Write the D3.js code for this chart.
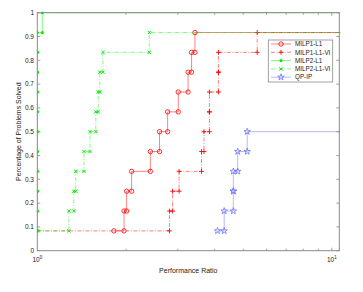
<!DOCTYPE html>
<html>
<head>
<meta charset="utf-8">
<script src="https://cdn.jsdelivr.net/npm/d3@7"></script>
<style>
  body { margin: 0; background: #fff; }
  text { font-family: "Liberation Sans", Arial, sans-serif; }
</style>
</head>
<body>
<script>
// performance ratios of the solved problems (12 problems in total)
var nProb = 12;
var xMax = 10.6;
var seriesNames = ["MILP1-L1", "MILP1-L1-VI", "MILP2-L1", "MILP2-L1-VI", "QP-IP"];
var milp1L1 = [1.82, 1.97, 2.01, 2.09, 2.42, 2.60, 2.77, 3.01, 3.25, 3.34, 3.43];
var milp1L1VI = [1, 2.81, 2.88, 3.03, 3.61, 3.68, 3.84, 3.84, 4.12, 4.12, 5.58];
var milp2L1 = [1, 1, 1, 1, 1, 1, 1, 1, 1, 1, 1, 1.04];
var milp2L1VI = [1, 1.28, 1.33, 1.35, 1.44, 1.51, 1.58, 1.61, 1.63, 1.67, 2.40];
var qpIP = [4.09, 4.31, 4.63, 4.63, 4.79, 5.16];
var yTicks = [0, 0.1, 0.2, 0.3, 0.4, 0.5, 0.6, 0.7, 0.8, 0.9, 1];
var xMinorTicks = [2, 3, 4, 5, 6, 7, 8, 9];
var xLabelTicks = [{v: 1, e: "0"}, {v: 10, e: "1"}];

var series = [
    {name: seriesNames[0], r: milp1L1, c: "#ff0000", dash: null, m: "circle"},
    {name: seriesNames[1], r: milp1L1VI, c: "#ff0000", dash: "4,1.5,1,1.5", m: "plus"},
    {name: seriesNames[2], r: milp2L1, c: "#00f000", dash: null, m: "dot"},
    {name: seriesNames[3], r: milp2L1VI, c: "#00f000", dash: "4,1.5,1,1.5", m: "cross"},
    {name: seriesNames[4], r: qpIP, c: "#7070ff", dash: null, m: "star"}
];

var L = 37.3, R = 339.3, T = 12.7, B = 250.7;
var gray = "#8a8a8a";

var svg = d3.select("body").append("svg")
    .attr("width", 363)
    .attr("height", 292);

var x = d3.scaleLog().domain([1, xMax]).range([L, R]);
var y = d3.scaleLinear().domain([0, 1]).range([B, T]);

svg.append("clipPath").attr("id", "clip")
    .append("rect").attr("x", L).attr("y", T - 1).attr("width", R - L + 1).attr("height", B - T + 2);

// stair vertices like matlab stairs()
function stairs(r) {
    var pts = [{x: r[0], y: 1 / nProb}];
    for (var i = 1; i < r.length; i++) {
        pts.push({x: r[i], y: i / nProb});
        pts.push({x: r[i], y: (i + 1) / nProb});
    }
    return pts;
}

function drawMarker(g, type, cx, cy, c) {
    if (type === "circle") {
        g.append("circle").attr("cx", cx).attr("cy", cy).attr("r", 2.2)
            .attr("fill", "none").attr("stroke", c).attr("stroke-width", 0.8);
    } else if (type === "dot") {
        g.append("circle").attr("cx", cx).attr("cy", cy).attr("r", 1.6).attr("fill", c);
    } else if (type === "plus") {
        g.append("path").attr("d", "M" + (cx - 2.4) + "," + cy + "h4.8M" + cx + "," + (cy - 2.4) + "v4.8")
            .attr("stroke", c).attr("stroke-width", 0.9);
    } else if (type === "cross") {
        g.append("path").attr("d", "M" + (cx - 1.6) + "," + (cy - 1.6) + "l3.2,3.2M" + (cx - 1.6) + "," + (cy + 1.6) + "l3.2,-3.2")
            .attr("stroke", c).attr("stroke-width", 1);
    } else if (type === "star") {
        g.append("path").attr("d", d3.symbol().type(d3.symbolStar).size(13)())
            .attr("transform", "translate(" + cx + "," + cy + ")")
            .attr("fill", "none").attr("stroke", c).attr("stroke-width", 0.8);
    }
}

var line = d3.line()
    .x(function (d) { return x(d.x); })
    .y(function (d) { return y(d.y); });

// ticks, inward on all four sides
var axes = svg.append("g").attr("stroke", gray).attr("stroke-width", 0.8);
yTicks.forEach(function (t) {
    axes.append("line").attr("x1", L).attr("x2", L + 3).attr("y1", y(t)).attr("y2", y(t));
    axes.append("line").attr("x1", R).attr("x2", R - 3).attr("y1", y(t)).attr("y2", y(t));
});
xMinorTicks.concat([10]).forEach(function (t) {
    var len = t === 10 ? 3 : 2;
    axes.append("line").attr("x1", x(t)).attr("x2", x(t)).attr("y1", B).attr("y2", B - len);
    axes.append("line").attr("x1", x(t)).attr("x2", x(t)).attr("y1", T).attr("y2", T + len);
});

var plot = svg.append("g").attr("clip-path", "url(#clip)");
series.forEach(function (s) {
    var pts = stairs(s.r);
    var last = pts[pts.length - 1];
    var path = pts.concat([{x: xMax * 1.05, y: last.y}]);
    plot.append("path")
        .attr("d", line(path))
        .attr("fill", "none")
        .attr("stroke", s.c)
        .attr("stroke-opacity", 0.55)
        .attr("stroke-width", 0.9)
        .attr("stroke-dasharray", s.dash);
    var mg = plot.append("g");
    pts.forEach(function (p) { drawMarker(mg, s.m, x(p.x), y(p.y), s.c); });
});

// frame
svg.append("rect")
    .attr("x", L).attr("y", T).attr("width", R - L).attr("height", B - T)
    .attr("fill", "none").attr("stroke", gray).attr("stroke-width", 1);

// tick labels
svg.append("g").selectAll("text")
    .data(yTicks)
    .enter()
        .append("text")
        .attr("x", 34)
        .attr("y", function (d) { return y(d) + 2.3; })
        .attr("text-anchor", "end")
        .style("font-size", "6.5px")
        .attr("fill", "#222")
        .text(function (d) { return d3.format("")(d); });

var xl = svg.append("g").selectAll("text")
    .data(xLabelTicks)
    .enter()
        .append("text")
        .attr("x", function (d) { return x(d.v); })
        .attr("y", 262)
        .attr("text-anchor", "middle")
        .style("font-size", "6.5px")
        .attr("fill", "#222");
xl.append("tspan").text("10");
xl.append("tspan").attr("dy", -3).style("font-size", "4.5px").text(function (d) { return d.e; });

svg.append("text")
    .attr("x", (L + R) / 2).attr("y", 273)
    .attr("text-anchor", "middle")
    .style("font-size", "7px")
    .attr("fill", "#222")
    .text("Performance Ratio");

svg.append("text")
    .attr("transform", "translate(20.5," + (T + B) / 2 + ") rotate(-90)")
    .attr("text-anchor", "middle")
    .style("font-size", "7px")
    .attr("fill", "#222")
    .text("Percentage of Problems Solved");

// legend
var lg = svg.append("g");
lg.append("rect").attr("x", 268.3).attr("y", 40).attr("width", 64.4).attr("height", 42)
    .attr("fill", "#fff").attr("stroke", gray).attr("stroke-width", 0.8);
series.forEach(function (s, i) {
    var ly = 44 + i * 8.3;
    lg.append("line").attr("x1", 271).attr("x2", 291).attr("y1", ly).attr("y2", ly)
        .attr("stroke", s.c).attr("stroke-opacity", 0.55).attr("stroke-width", 0.9)
        .attr("stroke-dasharray", s.dash);
    drawMarker(lg, s.m, 281, ly, s.c);
    lg.append("text").attr("x", 295).attr("y", ly + 2.2)
        .style("font-size", "6.3px").attr("fill", "#222").text(s.name);
});
</script>
</body>
</html>
